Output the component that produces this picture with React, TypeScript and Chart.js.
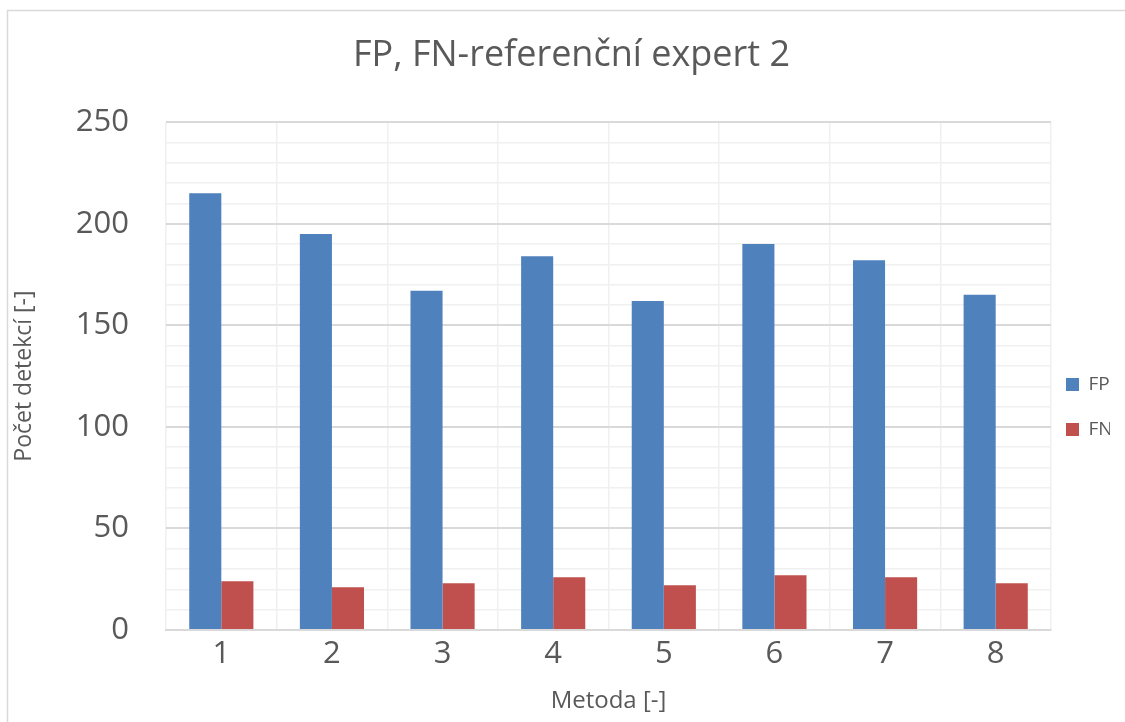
import React, { useEffect, useRef } from "react";
import { Chart, registerables } from "chart.js";

Chart.register(...registerables);

const categories = ["1", "2", "3", "4", "5", "6", "7", "8"];
const fpValues = [215, 195, 167, 184, 162, 190, 182, 165];
const fnValues = [24, 21, 23, 26, 22, 27, 26, 23];
const seriesNames = ["FP", "FN"];
const titleText = "FP, FN-referenční expert 2";
const xTitle = "Metoda [-]";
const yTitle = "Počet detekcí [-]";

const FONT = "'Open Sans', 'DejaVu Sans', sans-serif";
const TEXT = "#595959";

const frame = {
  id: "frame",
  beforeDraw(chart: any) {
    const { ctx, width, height } = chart;
    ctx.save();
    ctx.fillStyle = "#ffffff";
    ctx.fillRect(0, 0, width, height);
    ctx.strokeStyle = "#d9d9d9";
    ctx.lineWidth = 1.5;
    ctx.beginPath();
    ctx.moveTo(7.5, height);
    ctx.lineTo(7.5, 10.5);
    ctx.lineTo(width, 10.5);
    ctx.stroke();
    ctx.restore();
  },
};

const boxShift = {
  id: "boxShift",
  afterLayout(chart: any) {
    const lg = chart.legend;
    if (lg) {
      lg.left -= 11;
      lg.right -= 11;
      lg.top += 41;
      lg.bottom += 41;
    }
    const tb = chart.titleBlock;
    if (tb) {
      tb.left += 7;
      tb.right += 7;
    }
  },
};

export default function App() {
  const ref = useRef<HTMLCanvasElement | null>(null);
  useEffect(() => {
    if (!ref.current) return;
    const chart = new Chart(ref.current, {
      type: "bar",
      data: {
        labels: categories,
        datasets: [
          { label: seriesNames[0], data: fpValues, backgroundColor: "#4f81bd", borderWidth: 0 },
          { label: seriesNames[1], data: fnValues, backgroundColor: "#c0504d", borderWidth: 0 },
        ],
      },
      options: {
        animation: false,
        responsive: false,
        maintainAspectRatio: false,
        datasets: { bar: { barPercentage: 1, categoryPercentage: 0.58 } },
        layout: { padding: { left: 8, right: 4, top: 16, bottom: 6 } },
        plugins: {
          tooltip: { enabled: false },
          title: {
            display: true,
            text: titleText,
            color: TEXT,
            font: { family: FONT, size: 36, weight: "normal" },
            padding: { top: 18, bottom: 45 },
          },
          legend: {
            position: "right",
            maxWidth: 70,
            labels: {
              color: TEXT,
              font: { family: FONT, size: 19 },
              boxWidth: 13,
              boxHeight: 13,
              padding: 26,
            },
          },
        },
        scales: {
          x: {
            grid: { display: true, offset: true, color: "#f0f0f0", lineWidth: 1.5, drawTicks: false },
            border: { display: true, color: "#d9d9d9", width: 2 },
            ticks: { color: TEXT, font: { family: FONT, size: 31 }, padding: 6 },
            title: {
              display: true,
              text: xTitle,
              color: TEXT,
              font: { family: FONT, size: 24 },
              padding: { top: 8, bottom: 0 },
            },
          },
          y: {
            min: 0,
            max: 250,
            afterFit(scale: any) {
              scale.width = 158;
            },
            grid: {
              drawTicks: false,
              color: (c: any) => (c.tick && c.tick.value % 50 === 0 ? "#d9d9d9" : "#f0f0f0"),
              lineWidth: (c: any) => (c.tick && c.tick.value % 50 === 0 ? 2 : 1.5),
            },
            border: { display: false },
            ticks: {
              stepSize: 10,
              autoSkip: false,
              color: TEXT,
              font: { family: FONT, size: 31 },
              padding: 37,
              callback: (v: any) => (Number(v) % 50 === 0 ? String(v) : ""),
            },
            title: {
              display: true,
              text: yTitle,
              color: TEXT,
              font: { family: FONT, size: 23 },
              padding: { top: 3, bottom: 0 },
            },
          },
        },
      },
      plugins: [frame, boxShift],
    });
    return () => chart.destroy();
  }, []);
  return (
    <div style={{ position: "absolute", left: 0, top: 0, width: 1125, height: 722 }}>
      <canvas ref={ref} width={1125} height={722} style={{ display: "block" }} />
    </div>
  );
}
